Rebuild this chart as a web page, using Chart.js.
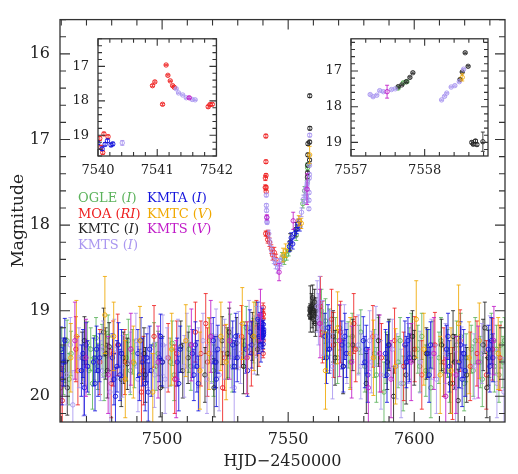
<!DOCTYPE html>
<html lang="en">
<head>
<meta charset="UTF-8">
<title>Light curve</title>
<script src="https://cdn.jsdelivr.net/npm/chart.js@4"></script>
<style>
    body { margin: 0; background: #fff; }
    #wrap { position: relative; width: 518px; height: 474px; }
    canvas { position: absolute; }
    .leg { position: absolute; font-family: 'DejaVu Serif', serif; font-size: 13px; line-height: 15.5px; white-space: nowrap; }
</style>
</head>
<body>
<div id="wrap">
    <canvas id="main" width="518" height="474" style="left:0;top:0"></canvas>
    <canvas id="inLeft" width="182" height="164" style="left:58px;top:22px"></canvas>
    <canvas id="inRight" width="183" height="164" style="left:311px;top:22px"></canvas>
    <div class="leg" style="left:78px;top:190px">
        <div style="color:#5cb35c">OGLE (<i>I</i>)</div>
        <div style="color:#ee2020">MOA (<i>RI</i>)</div>
        <div style="color:#222">KMTC (<i>I</i>)</div>
        <div style="color:#a996f0">KMTS (<i>I</i>)</div>
    </div>
    <div class="leg" style="left:147px;top:190px">
        <div style="color:#1414dc">KMTA (<i>I</i>)</div>
        <div style="color:#f0a800">KMTC (<i>V</i>)</div>
        <div style="color:#c01ac8">KMTS (<i>V</i>)</div>
    </div>
</div>
<script>
// точки: [HJD-2450000, звёздная величина, ошибка]
const ogleI = [
    [7460.2,19.45,0.25],[7460.9,19.7,0.28],[7461.5,19.58,0.26],[7462.3,19.35,0.24],[7463.1,19.8,0.3],[7463.9,19.5,0.26],
    [7469.6,19.6,0.27],[7470.3,19.38,0.25],[7471.0,19.7,0.28],[7471.7,19.45,0.25],[7472.4,19.85,0.3],[7473.1,19.55,0.26],
    [7473.8,19.32,0.24],[7474.5,19.65,0.27],[7476.2,19.42,0.26],[7477.0,19.75,0.3],[7477.8,19.5,0.26],[7478.6,19.3,0.25],
    [7485.8,19.55,0.27],[7486.6,19.35,0.25],[7487.4,19.7,0.28],[7488.2,19.48,0.26],[7489.0,19.62,0.28],
    [7496.8,19.4,0.26],[7497.6,19.65,0.28],[7498.4,19.5,0.26],[7503.2,19.6,0.28],[7504.0,19.38,0.26],[7504.8,19.75,0.3],
    [7510.6,19.45,0.27],[7511.4,19.65,0.28],[7518.8,19.35,0.26],[7519.6,19.55,0.28],[7520.4,19.7,0.3],
    [7526.2,19.5,0.28],[7527.0,19.3,0.26],[7527.8,19.65,0.3],[7532.6,19.4,0.27],[7533.4,19.2,0.25],
    [7536.2,19.35,0.26],[7537.0,19.15,0.25],
    [7547.6,18.38,0.06],[7548.5,18.4,0.06],[7549.4,18.35,0.06],[7550.2,18.3,0.06],[7553.2,18.12,0.06],
    [7555.8,17.75,0.05],[7556.5,17.6,0.05],[7557.64,17.48,0.03],[7557.71,17.33,0.03],[7557.76,17.3,0.03],
    [7563.2,19.0,0.25],[7564.0,19.3,0.27],[7564.8,19.12,0.26],[7565.6,19.45,0.28],[7566.4,19.25,0.27],
    [7568.8,19.35,0.27],[7569.6,19.55,0.3],[7570.4,19.2,0.26],[7573.8,19.4,0.27],[7574.6,19.6,0.3],[7575.4,19.3,0.27],
    [7578.0,19.45,0.28],[7578.8,19.25,0.26],[7580.4,19.65,0.3],[7584.2,19.5,0.28],[7585.0,19.75,0.32],[7585.8,19.35,0.27],
    [7588.0,19.95,0.35],[7588.8,19.55,0.3],[7590.0,19.4,0.28],[7593.6,19.6,0.3],[7594.4,19.35,0.27],[7595.6,19.85,0.32],
    [7598.0,19.5,0.3],[7598.8,19.3,0.27],[7601.4,19.45,0.28],[7602.2,19.65,0.3],[7603.0,19.3,0.27],
    [7604.6,19.7,0.3],[7605.8,19.5,0.28],[7606.6,19.9,0.35],[7607.4,19.4,0.28],[7609.8,19.55,0.3],[7610.6,19.35,0.27],
    [7611.6,19.7,0.3],[7613.2,19.5,0.28],[7614.0,19.75,0.32],[7616.8,19.4,0.28],[7617.6,19.6,0.3],[7618.4,19.3,0.27],
    [7619.8,19.85,0.32],[7620.6,19.55,0.28],[7622.6,19.45,0.28],[7623.4,19.7,0.3],[7624.2,19.35,0.27],
    [7626.2,19.6,0.3],[7627.0,19.8,0.32],[7629.8,19.5,0.28],[7630.6,19.3,0.27],[7631.8,19.65,0.3],
    [7632.6,19.45,0.28],[7633.6,19.75,0.32],[7634.4,19.4,0.27],[7635.2,19.6,0.3],[7635.8,19.35,0.27]
];
const moaRI = [
    [7459.8,19.9,0.4],[7460.4,20.05,0.4],[7465.8,19.45,0.38],[7466.6,19.7,0.4],[7475.3,19.6,0.38],
    [7479.8,19.85,0.4],[7480.6,19.5,0.38],[7482.4,19.4,0.36],[7485.2,19.6,0.38],[7491.8,19.95,0.42],
    [7492.6,19.7,0.4],[7496.8,19.3,0.36],[7502.4,19.55,0.4],[7505.0,19.8,0.4],[7505.8,19.5,0.38],
    [7513.2,19.25,0.35],[7515.4,19.5,0.38],[7517.3,19.15,0.35],[7518.0,19.6,0.4],[7524.0,19.9,0.42],
    [7524.8,19.55,0.38],[7531.5,19.3,0.36],[7535.4,19.5,0.38],[7537.4,19.2,0.32],[7538.4,19.35,0.3],
    [7540.03,19.09,0.06],[7540.05,19.35,0.06],[7540.08,19.5,0.05],[7540.1,18.96,0.05],[7540.17,19.04,0.05],
    [7540.92,17.56,0.03],[7540.96,17.45,0.03],[7541.09,18.1,0.03],[7541.15,16.96,0.02],[7541.18,17.26,0.02],
    [7541.22,17.42,0.02],[7541.26,17.56,0.02],[7541.29,17.61,0.02],[7541.86,18.17,0.04],[7541.89,18.11,0.04],
    [7541.93,18.1,0.04],[7542.6,18.2,0.05],[7543.3,18.28,0.05],[7543.8,18.35,0.06],[7544.5,18.32,0.06],
    [7545.2,18.4,0.06],
    [7562.8,18.95,0.35],[7563.6,19.25,0.36],[7567.2,19.1,0.35],[7568.0,19.4,0.38],[7570.8,19.25,0.36],
    [7576.0,19.15,0.35],[7576.8,19.45,0.38],[7583.6,19.3,0.36],[7587.0,19.55,0.4],[7592.2,19.35,0.38],
    [7595.8,19.65,0.4],[7600.2,19.45,0.38],[7603.0,19.75,0.4],[7608.2,19.4,0.38],[7611.8,19.6,0.4],
    [7615.2,19.85,0.42],[7618.2,19.35,0.36],[7622.2,19.65,0.4],[7624.9,19.5,0.38],[7628.6,19.75,0.4],
    [7631.0,19.45,0.36],[7634.0,19.55,0.38]
];
const kmtcI = [
    [7461.6,19.6,0.28],[7462.4,19.9,0.32],[7468.3,19.55,0.3],[7469.2,19.35,0.28],[7476.8,19.25,0.28],
    [7477.6,19.5,0.3],[7478.3,19.7,0.32],[7479.0,19.42,0.28],[7483.8,19.8,0.32],[7484.6,19.55,0.3],
    [7486.2,19.62,0.3],[7492.8,19.5,0.3],[7493.4,19.75,0.32],[7499.3,19.9,0.34],[7500.2,19.6,0.3],
    [7507.4,19.42,0.3],[7508.2,19.7,0.32],[7510.3,19.55,0.3],[7517.0,19.75,0.32],[7520.6,19.9,0.34],
    [7521.4,19.6,0.3],[7523.8,19.35,0.28],[7525.8,19.5,0.3],[7526.6,19.25,0.28],[7529.6,19.38,0.3],
    [7532.3,19.65,0.32],[7535.8,19.3,0.28],[7537.8,19.45,0.3],
    [7550.8,18.2,0.1],[7553.0,18.05,0.08],
    [7557.64,17.44,0.02],[7557.69,17.39,0.02],[7557.75,17.3,0.02],[7557.8,17.18,0.02],[7557.84,17.05,0.02],
    [7558.48,17.24,0.02],[7558.51,17.03,0.02],[7558.55,16.49,0.02],[7558.59,16.87,0.02],
    [7558.64,19.0,0.04],[7558.66,19.05,0.04],[7558.69,18.96,0.04],[7558.71,19.06,0.04],[7558.79,18.98,0.27],
    [7559.3,18.95,0.15],[7559.5,19.05,0.15],[7559.7,18.85,0.15],[7559.9,19.1,0.15],[7560.2,19.0,0.15],
    [7560.5,18.9,0.15],[7560.8,19.15,0.15],[7561.0,19.0,0.15],[7561.3,19.08,0.15],
    [7567.8,19.3,0.3],[7568.6,19.55,0.32],[7571.8,19.65,0.32],[7575.6,19.4,0.3],[7581.0,19.85,0.35],
    [7585.8,19.35,0.3],[7589.3,19.6,0.32],[7590.0,19.4,0.3],[7591.8,20.0,0.35],[7596.8,19.75,0.34],
    [7599.3,19.3,0.3],[7600.0,19.55,0.32],[7604.8,19.5,0.3],[7610.8,19.4,0.3],[7614.3,19.85,0.35],
    [7615.4,19.3,0.3],[7616.0,19.6,0.32],[7617.4,20.05,0.36],[7620.8,19.75,0.32],[7627.3,19.4,0.3],
    [7628.0,19.2,0.3],[7628.8,19.9,0.35],[7629.4,19.55,0.32]
];
const kmtsI = [
    [7462.0,19.75,0.35],[7463.6,19.4,0.32],[7464.6,20.1,0.4],[7467.0,19.55,0.35],[7468.8,19.85,0.38],
    [7475.6,19.7,0.35],[7476.6,19.45,0.33],[7479.3,19.95,0.4],[7481.0,19.45,0.35],[7484.3,19.65,0.36],
    [7487.3,19.6,0.35],[7489.6,19.35,0.32],[7490.4,19.8,0.38],[7494.4,19.55,0.35],[7497.0,19.75,0.38],
    [7500.3,19.4,0.35],[7501.2,19.8,0.4],[7502.0,19.55,0.35],[7506.3,19.45,0.35],[7508.8,19.65,0.36],
    [7509.8,19.35,0.32],[7514.4,19.55,0.35],[7516.2,19.35,0.32],[7517.8,19.8,0.4],[7519.6,19.5,0.35],
    [7521.4,19.3,0.32],[7522.6,19.75,0.42],[7524.8,19.45,0.35],[7527.6,19.55,0.35],[7528.6,19.9,0.45],
    [7530.3,19.35,0.34],[7531.1,19.5,0.35],[7534.5,19.2,0.32],[7536.6,19.4,0.34],[7537.3,19.25,0.3],
    [7539.4,19.2,0.25],[7540.41,19.22,0.07],
    [7541.32,17.65,0.02],[7541.36,17.77,0.02],[7541.43,17.83,0.02],[7541.49,17.91,0.02],[7541.59,17.96,0.02],
    [7541.64,17.97,0.02],[7542.3,18.1,0.04],[7542.8,18.2,0.04],[7543.5,18.3,0.05],[7544.3,18.4,0.05],
    [7545.0,18.45,0.06],[7545.8,18.5,0.06],[7546.6,18.45,0.06],[7547.3,18.42,0.06],[7554.6,17.95,0.05],
    [7555.3,17.85,0.05],[7556.0,17.7,0.05],[7556.7,17.6,0.04],
    [7557.26,17.66,0.02],[7557.3,17.72,0.02],[7557.35,17.68,0.02],[7557.39,17.55,0.02],[7557.44,17.58,0.02],
    [7557.55,17.52,0.02],[7557.6,17.5,0.02],[7558.23,17.81,0.02],[7558.27,17.71,0.02],[7558.3,17.62,0.02],
    [7558.36,17.45,0.02],[7558.41,17.41,0.02],[7558.47,17.3,0.02],[7558.53,16.95,0.02],
    [7561.5,18.95,0.3],[7562.0,19.1,0.3],[7562.5,18.9,0.3],[7563.8,19.2,0.32],[7566.6,19.35,0.35],
    [7567.6,19.65,0.38],[7572.3,19.25,0.32],[7573.3,19.5,0.35],[7577.8,19.4,0.35],[7578.8,19.65,0.38],
    [7582.3,19.35,0.35],[7583.0,19.6,0.36],[7584.8,19.3,0.35],[7586.8,19.75,0.4],[7591.3,19.45,0.35],
    [7593.0,19.65,0.38],[7594.8,19.85,0.4],[7597.6,19.5,0.35],[7602.3,19.6,0.36],[7606.8,19.45,0.35],
    [7608.8,19.8,0.4],[7612.4,19.5,0.35],[7616.4,19.9,0.42],[7618.8,19.55,0.36],[7623.8,19.65,0.38],
    [7626.8,19.5,0.35],[7630.0,19.4,0.34],[7632.8,19.85,0.4],[7635.6,19.95,0.4]
];
const kmtaI = [
    [7459.8,19.45,0.26],[7460.3,19.8,0.3],[7460.9,19.6,0.28],[7461.4,19.35,0.26],
    [7468.0,19.7,0.3],[7468.6,19.5,0.28],[7469.2,19.9,0.32],[7469.8,19.4,0.26],[7470.4,19.65,0.3],
    [7472.8,19.6,0.28],[7473.4,19.85,0.32],[7474.0,19.45,0.27],[7474.6,19.7,0.3],[7475.2,19.55,0.28],
    [7480.3,19.55,0.28],[7480.9,19.8,0.3],[7481.5,20.0,0.34],[7482.1,19.65,0.3],[7482.7,19.4,0.26],
    [7483.3,19.75,0.3],[7483.9,19.5,0.28],[7490.4,19.5,0.28],[7491.0,19.75,0.3],[7491.6,19.35,0.27],
    [7492.2,19.6,0.28],[7493.3,19.85,0.32],[7493.9,19.55,0.28],[7494.5,19.95,0.34],[7495.1,19.45,0.27],
    [7495.7,19.7,0.3],[7498.8,19.55,0.28],[7499.4,19.3,0.26],[7500.0,19.6,0.28],
    [7506.0,19.6,0.28],[7506.6,19.85,0.32],[7507.2,19.45,0.27],[7512.0,19.5,0.28],[7512.6,19.75,0.3],
    [7513.2,19.4,0.27],[7513.8,19.65,0.3],[7514.4,19.85,0.32],[7520.3,19.35,0.27],[7520.9,19.6,0.3],
    [7521.5,19.8,0.32],[7522.1,19.45,0.28],[7528.0,19.4,0.28],[7528.6,19.65,0.3],[7529.2,19.3,0.27],
    [7529.8,19.55,0.28],[7533.3,19.45,0.28],[7533.9,19.7,0.3],[7534.8,19.25,0.26],[7535.6,19.4,0.27],
    [7538.0,19.1,0.2],[7538.4,19.3,0.2],[7538.8,19.2,0.18],[7539.2,19.4,0.2],[7539.6,19.15,0.18],
    [7539.9,19.3,0.18],
    [7540.0,19.22,0.05],[7540.07,19.39,0.05],[7540.12,19.26,0.05],[7540.16,19.16,0.05],[7540.22,19.28,0.05],
    [7540.25,19.25,0.05],
    [7550.5,18.25,0.06],[7551.2,18.15,0.06],[7551.8,18.22,0.06],[7552.5,18.1,0.05],[7553.4,18.05,0.05],
    [7554.0,17.98,0.05],[7554.6,18.02,0.05],
    [7564.6,19.3,0.27],[7565.2,19.55,0.3],[7565.8,19.2,0.27],[7566.4,19.45,0.28],[7571.3,19.4,0.28],
    [7571.9,19.65,0.3],[7572.5,19.3,0.27],[7573.1,19.5,0.28],[7579.8,19.35,0.28],[7580.4,19.6,0.3],
    [7581.0,19.45,0.28],[7581.6,19.75,0.32],[7588.6,19.5,0.28],[7589.2,19.75,0.32],[7589.8,19.4,0.27],
    [7596.3,19.4,0.28],[7596.9,19.6,0.3],[7597.5,19.35,0.27],[7598.1,19.55,0.28],[7605.3,19.5,0.28],
    [7605.9,19.75,0.32],[7606.5,19.4,0.27],[7612.8,19.45,0.28],[7613.4,19.3,0.27],[7614.0,19.65,0.3],
    [7617.8,19.6,0.3],[7618.4,19.4,0.27],[7619.0,19.8,0.32],[7619.6,19.5,0.28],[7620.2,19.7,0.3],
    [7629.4,19.45,0.28],[7630.0,19.65,0.3],[7630.6,19.35,0.27],[7631.2,19.55,0.28]
];
const kmtcV = [
    [7463.8,19.55,0.4],[7466.0,19.3,0.42],[7477.3,19.05,0.45],[7480.8,19.3,0.4],[7485.4,19.8,0.45],
    [7488.6,19.6,0.42],[7491.2,19.35,0.4],[7496.3,19.95,0.45],[7503.8,19.45,0.42],[7509.4,19.35,0.42],
    [7515.0,19.7,0.45],[7518.6,19.5,0.42],[7523.3,19.3,0.4],[7525.4,19.6,0.44],[7531.8,19.15,0.42],
    [7533.8,19.55,0.42],[7536.4,19.3,0.4],
    [7548.0,18.35,0.08],[7549.0,18.3,0.08],[7554.2,17.95,0.06],[7555.2,17.98,0.06],[7558.51,17.18,0.1],
    [7564.8,19.7,0.45],[7569.6,19.2,0.42],[7574.6,19.5,0.42],[7583.8,19.55,0.44],[7592.6,19.65,0.44],
    [7600.8,19.1,0.45],[7603.8,19.45,0.42],[7610.3,19.75,0.45],[7614.6,19.7,0.5],[7617.6,19.15,0.45],
    [7621.8,19.55,0.42],[7625.8,19.35,0.44],[7633.3,19.5,0.42]
];
const kmtsV = [
    [7465.4,19.35,0.45],[7469.8,19.55,0.45],[7478.6,19.75,0.45],[7487.6,19.45,0.42],[7498.4,19.6,0.42],
    [7505.6,19.8,0.45],[7511.6,19.4,0.42],[7519.3,19.3,0.42],[7526.8,19.35,0.45],[7533.6,19.55,0.42],
    [7539.0,19.05,0.3],
    [7541.54,17.91,0.03],[7546.4,18.55,0.1],[7552.0,17.95,0.1],[7557.49,17.58,0.18],
    [7562.6,19.15,0.4],[7570.4,19.35,0.42],[7575.2,19.6,0.42],[7581.8,19.9,0.45],[7586.3,19.5,0.45],
    [7590.8,19.8,0.45],[7598.8,19.6,0.45],[7607.8,19.5,0.42],[7612.5,20.0,0.45],[7616.6,19.75,0.45],
    [7625.4,19.6,0.42],[7631.6,19.35,0.4]
];

const seriesList = [
    { name: 'OGLE (I)', pts: ogleI, color: '#5cb35c' },
    { name: 'MOA (RI)', pts: moaRI, color: '#ee2020' },
    { name: 'KMTC (I)', pts: kmtcI, color: '#222222' },
    { name: 'KMTS (I)', pts: kmtsI, color: '#a996f0' },
    { name: 'KMTA (I)', pts: kmtaI, color: '#1414dc' },
    { name: 'KMTC (V)', pts: kmtcV, color: '#f0a800' },
    { name: 'KMTS (V)', pts: kmtsV, color: '#c01ac8' }
];

Chart.defaults.font.family = "'DejaVu Serif', serif";
Chart.defaults.color = '#222';

// Плагин для планок ошибок (рисуются перед маркерами своего набора)
const errBars = {
    id: 'errBars',
    beforeDatasetDraw(chart, args) {
        const { ctx, chartArea: a, scales: { x, y } } = chart;
        const ds = chart.data.datasets[args.index];
        ctx.save();
        ctx.beginPath();
        ctx.rect(a.left, a.top, a.right - a.left, a.bottom - a.top);
        ctx.clip();
        ctx.strokeStyle = ds.borderColor;
        ctx.lineWidth = 0.85;
        ctx.beginPath();
        ds.data.forEach(p => {
            const px = x.getPixelForValue(p.x);
            const y1 = y.getPixelForValue(p.y - p.e);
            const y2 = y.getPixelForValue(p.y + p.e);
            ctx.moveTo(px, y1); ctx.lineTo(px, y2);
            ctx.moveTo(px - 2, y1); ctx.lineTo(px + 2, y1);
            ctx.moveTo(px - 2, y2); ctx.lineTo(px + 2, y2);
        });
        ctx.stroke();
        ctx.restore();
    }
};

// Рамка и засечки внутрь со всех четырёх сторон
const frameTicks = {
    id: 'frameTicks',
    beforeDraw(chart, args, o) {
        if (!o.fill) return;
        const { ctx, chartArea: a } = chart;
        ctx.save();
        ctx.fillStyle = '#fff';
        ctx.fillRect(a.left, a.top, a.right - a.left, a.bottom - a.top);
        ctx.restore();
    },
    afterDatasetsDraw(chart, args, o) {
        const { ctx, chartArea: a, scales: { x, y } } = chart;
        ctx.save();
        ctx.strokeStyle = '#333';
        ctx.lineWidth = 1.3;
        ctx.strokeRect(a.left, a.top, a.right - a.left, a.bottom - a.top);
        ctx.lineWidth = 1.1;
        ctx.beginPath();
        const marks = (sc, minor, major, fn) => {
            const lo = Math.min(sc.min, sc.max), hi = Math.max(sc.min, sc.max);
            for (let k = Math.ceil(lo / minor - 1e-9); k <= Math.floor(hi / minor + 1e-9); k++) {
                const v = k * minor;
                const isMajor = Math.abs(v / major - Math.round(v / major)) < 1e-6;
                fn(sc.getPixelForValue(v), isMajor ? o.long : o.short);
            }
        };
        marks(x, o.xMinor, o.xMajor, (p, len) => {
            ctx.moveTo(p, a.bottom); ctx.lineTo(p, a.bottom - len);
            ctx.moveTo(p, a.top); ctx.lineTo(p, a.top + len);
        });
        marks(y, o.yMinor, o.yMajor, (p, len) => {
            ctx.moveTo(a.left, p); ctx.lineTo(a.left + len, p);
            ctx.moveTo(a.right, p); ctx.lineTo(a.right - len, p);
        });
        ctx.stroke();
        ctx.restore();
    }
};

function makeDatasets(radius) {
    return seriesList.map((s, i) => ({
        label: s.name,
        data: s.pts.map(p => ({ x: p[0], y: p[1], e: p[2] })),
        borderColor: s.color,
        backgroundColor: 'rgba(255,255,255,0)',
        pointRadius: radius,
        pointBorderWidth: 0.9,
        showLine: false,
        clip: 0,
        order: seriesList.length - i
    }));
}

function makeChart(id, cfg) {
    return new Chart(document.getElementById(id), {
        type: 'scatter',
        data: { datasets: makeDatasets(cfg.radius) },
        plugins: [errBars, frameTicks],
        options: {
            responsive: false,
            animation: false,
            events: [],
            layout: { padding: cfg.padding },
            plugins: {
                legend: { display: false },
                tooltip: { enabled: false },
                frameTicks: cfg.ticks
            },
            scales: {
                x: {
                    type: 'linear',
                    min: cfg.xMin, max: cfg.xMax,
                    grid: { display: false, drawTicks: false },
                    border: { display: false },
                    ticks: {
                        stepSize: cfg.xStep, includeBounds: false, autoSkip: false,
                        maxRotation: 0, padding: cfg.xPad,
                        font: { size: cfg.fontSize }, color: '#222',
                        callback: v => String(v)
                    },
                    title: cfg.xTitle || { display: false },
                    afterFit: s => { s.height = cfg.xHeight; }
                },
                y: {
                    type: 'linear',
                    reverse: true,
                    min: cfg.yMin, max: cfg.yMax,
                    grid: { display: false, drawTicks: false },
                    border: { display: false },
                    ticks: {
                        stepSize: 1, includeBounds: false, autoSkip: false,
                        padding: cfg.yPad,
                        font: { size: cfg.fontSize }, color: '#222',
                        callback: v => String(v)
                    },
                    title: cfg.yTitle || { display: false },
                    afterFit: s => { s.width = cfg.yWidth; }
                }
            }
        }
    });
}

// Основной график
makeChart('main', {
    radius: 2.2,
    padding: { top: 8, right: 13, left: 0, bottom: 0 },
    xMin: 7459.5, xMax: 7636, xStep: 50,
    yMin: 15.6, yMax: 20.3,
    fontSize: 16, xPad: 8, yPad: 10,
    xHeight: 52, yWidth: 60,
    xTitle: { display: true, text: 'HJD\u22122450000', font: { size: 16 }, color: '#222', padding: { top: 0, bottom: 3 } },
    yTitle: { display: true, text: 'Magnitude', font: { size: 17 }, color: '#222', padding: { top: 8, bottom: 0 } },
    ticks: { xMinor: 10, xMajor: 50, yMinor: 0.2, yMajor: 1, long: 10, short: 6, fill: false }
});

// Вставка: первое пересечение каустики
makeChart('inLeft', {
    radius: 2.2,
    padding: { top: 4, right: 6, left: 0, bottom: 0 },
    xMin: 7540, xMax: 7542, xStep: 1,
    yMin: 16.2, yMax: 19.6,
    fontSize: 13, xPad: 7, yPad: 9,
    xHeight: 30, yWidth: 40,
    ticks: { xMinor: 0.2, xMajor: 1, yMinor: 0.2, yMajor: 1, long: 7, short: 4, fill: true }
});

// Вставка: второе пересечение каустики
makeChart('inRight', {
    radius: 2.2,
    padding: { top: 4, right: 6, left: 0, bottom: 0 },
    xMin: 7557, xMax: 7558.86, xStep: 1,
    yMin: 16.1, yMax: 19.38,
    fontSize: 13, xPad: 7, yPad: 9,
    xHeight: 30, yWidth: 40,
    ticks: { xMinor: 0.2, xMajor: 1, yMinor: 0.2, yMajor: 1, long: 7, short: 4, fill: true }
});
</script>
</body>
</html>
